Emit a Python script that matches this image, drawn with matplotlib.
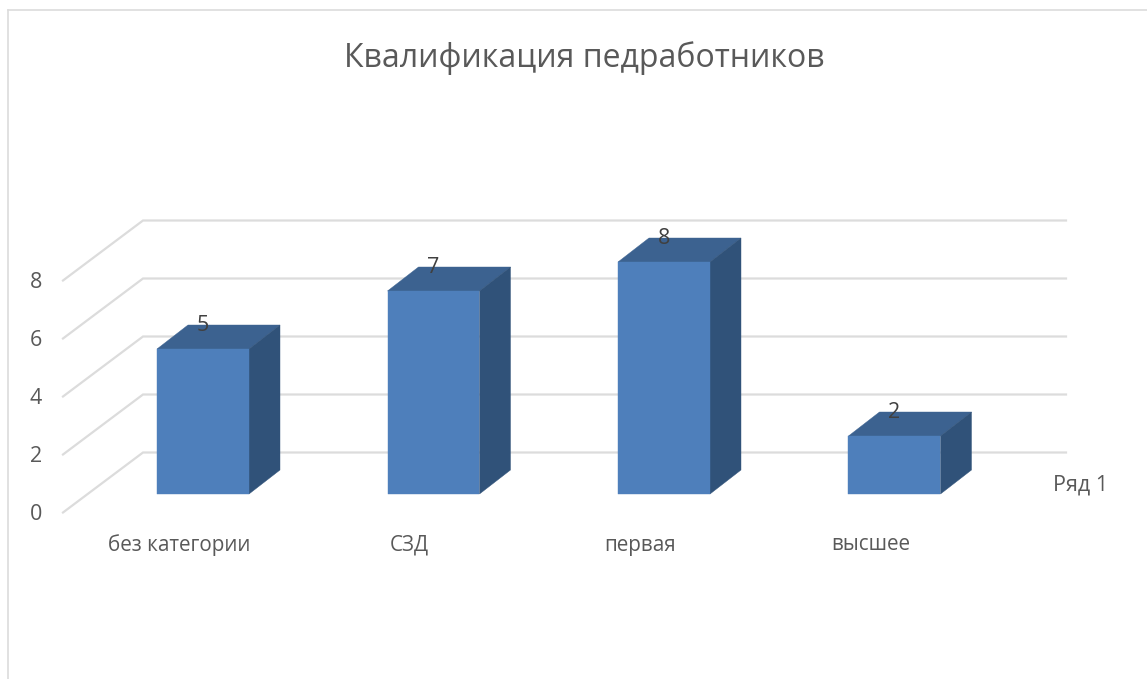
import numpy as np
import matplotlib
matplotlib.use('Agg')
import matplotlib.pyplot as plt
from matplotlib.patches import Polygon

categories = ['без категории', 'СЗД', 'первая', 'высшее']
values = [5, 7, 8, 2]
y_ticks = [0, 2, 4, 6, 8]
title = 'Квалификация педработников'
series_name = 'Ряд 1'

FRONT = '#4e7fbb'
TOP = '#3c6290'
SIDE = '#305279'
GRID = '#dcdcdc'
TEXT = '#595959'

plt.rcParams['font.family'] = ['Open Sans', 'DejaVu Sans']

W, H = 1147, 679
fig = plt.figure(figsize=(W / 100, H / 100), dpi=100)
ax = fig.add_axes([0, 0, 1, 1])

# one category = 230.5 px, one value unit = 29 px, first bar centre at x=203, base at y=494
ux, uy = 230.5, 29.0
ax.set_xlim(-203 / ux, (W - 203) / ux)
ax.set_ylim((494 - H) / uy, 494 / uy)
ax.axis('off')

bar_w = 92 / ux
dx, dy = 31 / ux, 24 / uy          # depth of a bar
wall_dx, wall_dy = 80 / ux, 60 / uy  # depth of the floor/wall
y0 = -18.5 / uy                    # front edge of the floor
x0 = (63 - 203) / ux
x1 = (1066 - 203) / ux

# chart frame
ax.plot([(8 - 203) / ux] * 2, [(494 - H) / uy, (494 - 10) / uy], color=GRID, lw=1.2)
ax.plot([(8 - 203) / ux, (W - 203) / ux], [(494 - 10) / uy] * 2, color=GRID, lw=1.2)

for t in y_ticks:
    ax.plot([x0, x0 + wall_dx, x1], [y0 + t, y0 + t + wall_dy, y0 + t + wall_dy],
            color=GRID, lw=1.6, solid_joinstyle='miter', zorder=1)
    ax.text((36 - 203) / ux, y0 + t - 1.5 / uy, str(t), color=TEXT, fontsize=15.5,
            ha='center', va='center')

for i, (name, v) in enumerate(zip(categories, values)):
    l, r = i - bar_w / 2, i + bar_w / 2
    ax.add_patch(Polygon([(l, v), (l + dx, v + dy), (r + dx, v + dy), (r, v)],
                         facecolor=TOP, edgecolor=TOP, lw=0.3, zorder=3))
    ax.add_patch(Polygon([(r, 0), (r + dx, dy), (r + dx, v + dy), (r, v)],
                         facecolor=SIDE, edgecolor=SIDE, lw=0.3, zorder=3))
    ax.add_patch(Polygon([(l, 0), (r, 0), (r, v), (l, v)],
                         facecolor=FRONT, edgecolor=FRONT, lw=0.3, zorder=4))
    ax.text(i, v + dy, str(v), color='#404040', fontsize=15.5,
            ha='center', va='center', zorder=5)
    ax.text(i - 24 / ux, -51 / uy, name, color=TEXT, fontsize=14.9, ha='center', va='center')

ax.text((1081 - 203) / ux, 9 / uy, series_name, color=TEXT, fontsize=15.5, ha='center', va='center')
ax.text((584 - 203) / ux, (494 - 58) / uy, title, color=TEXT, fontsize=23, ha='center', va='center')

fig.savefig('out.png', dpi=100)
